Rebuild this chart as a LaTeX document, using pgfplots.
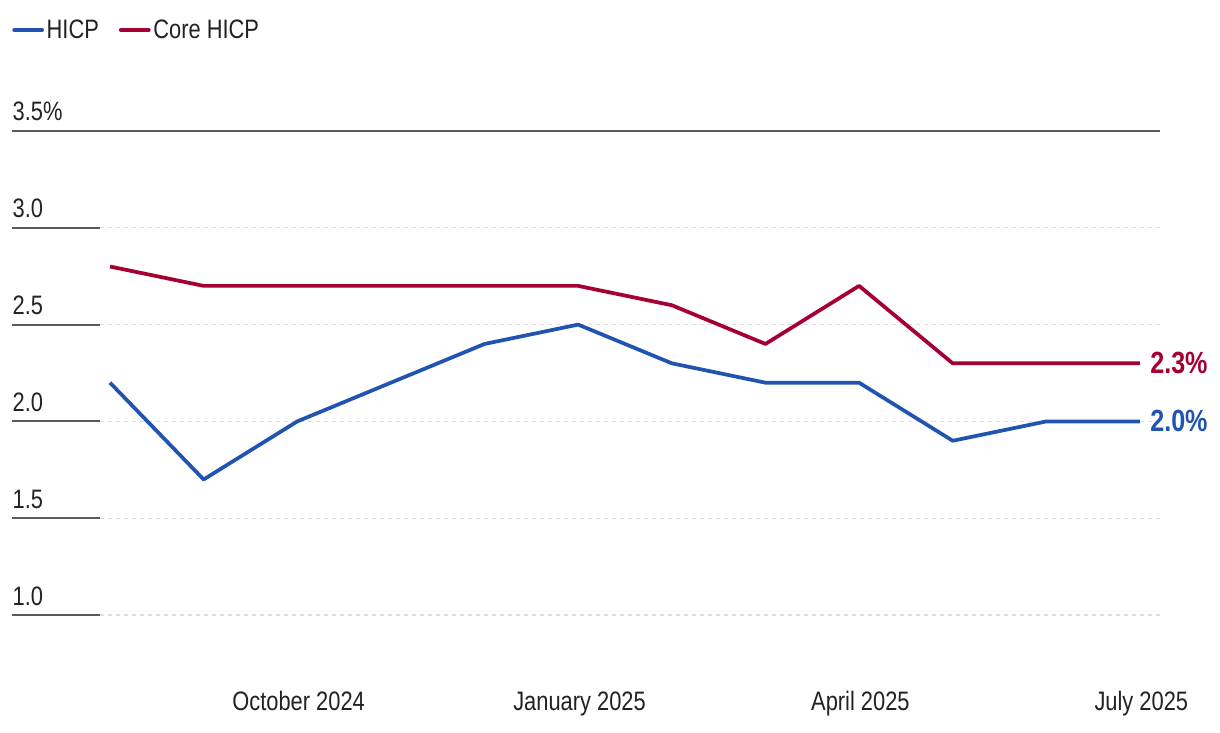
\documentclass[border=0pt]{standalone}
\usepackage{pgfplots}
\pgfplotsset{compat=1.18}
\usepackage{fontspec}
\setmainfont{Liberation Sans}[FakeStretch=0.82]
\definecolor{hicp}{RGB}{33,84,176}
\definecolor{core}{RGB}{165,0,50}
\definecolor{txt}{RGB}{34,34,34}
\definecolor{tickc}{RGB}{90,90,90}
\definecolor{gridc}{RGB}{221,221,221}
\begin{document}
\begin{tikzpicture}
\useasboundingbox (0pt,0pt) rectangle (915pt,549pt);
\begin{axis}[
  at={(75pt,87.75pt)}, anchor=south west,
  scale only axis, width=795pt, height=363pt,
  xmin=-0.107, xmax=11.214, ymin=1.0, ymax=3.5,
  axis line style={draw=none},
  clip=false,
  font=\fontsize{20}{24}\selectfont\color{txt},
  /pgf/number format/assume math mode=true,
  xtick={2,5,8,11},
  xticklabels={October 2024,January 2025,April 2025,July 2025},
  ytick={1.0,1.5,2.0,2.5,3.0},
  yticklabels={1.0,1.5,2.0,2.5,3.0},
  extra y ticks={3.5},
  extra y tick labels={3.5\%},
  extra y tick style={grid style={solid, draw=tickc, line width=0.9pt}},
  ymajorgrids,
  grid style={draw=gridc, line width=1pt, dash pattern=on 3pt off 3pt},
  tick align=outside,
  major tick length=66pt,
  ytick pos=left,
  xtick pos=bottom,
  ytick style={draw=tickc, line width=1.6pt},
  xtick style={draw=none},
  xticklabel style={anchor=base, yshift=-5.25pt, xshift=1pt},
  yticklabel style={anchor=base west, xshift=-3pt, yshift=7.5pt},
  legend style={at={(rel axis cs:-0.083,1.2087)}, anchor=west, draw=none, fill=none,
    inner sep=0pt, font=\fontsize{20}{24}\selectfont\color{txt},
    legend columns=-1, /tikz/every even column/.append style={column sep=13pt}},
  legend image code/.code={\draw[#1, line width=2.8pt, line cap=round] (0pt,0pt) -- (21pt,0pt);},
]
\addplot[hicp, line width=2.8pt, line join=round] coordinates {
 (0,2.2) (1,1.7) (2,2.0) (3,2.2) (4,2.4) (5,2.5) (6,2.3) (7,2.2) (8,2.2) (9,1.9) (10,2.0) (11,2.0)
} node[pos=1, anchor=west, xshift=3pt, font=\fontsize{23}{27}\selectfont\bfseries, text=hicp] {2.0\%};
\addlegendentry{HICP}
\addplot[core, line width=2.8pt, line join=round] coordinates {
 (0,2.8) (1,2.7) (2,2.7) (3,2.7) (4,2.7) (5,2.7) (6,2.6) (7,2.4) (8,2.7) (9,2.3) (10,2.3) (11,2.3)
} node[pos=1, anchor=west, xshift=3pt, font=\fontsize{23}{27}\selectfont\bfseries, text=core] {2.3\%};
\addlegendentry{Core HICP}
\end{axis}
\end{tikzpicture}
\end{document}
